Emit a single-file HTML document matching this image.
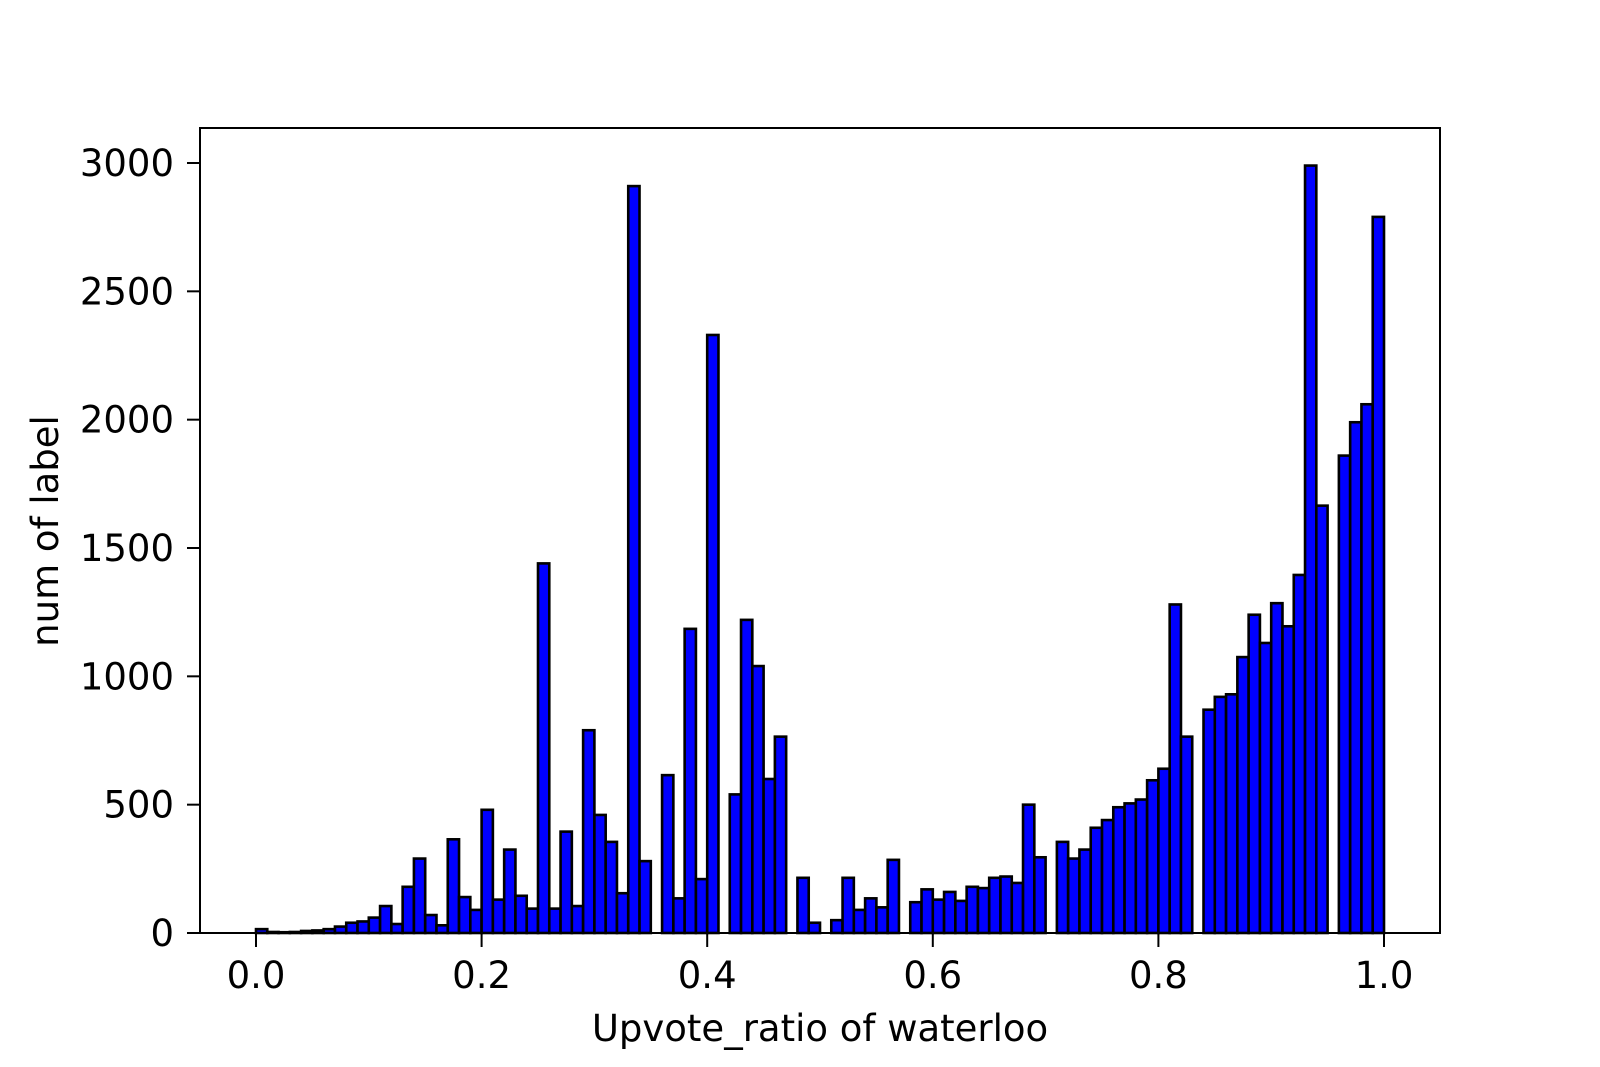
<!DOCTYPE html>
<html><head><meta charset="utf-8"><style>
html,body{margin:0;padding:0;background:#fff;overflow:hidden;width:1600px;height:1067px;}
svg{display:block;}
svg text{font-family:"DejaVu Sans","Liberation Sans",sans-serif;fill:#000;}
</style></head><body>
<svg id="chart" width="1600" height="1067" viewBox="0 0 1600 1067" xmlns="http://www.w3.org/2000/svg">
<rect width="1600" height="1067" fill="#fff"/>
<g id="bars"></g>
<g id="axes"></g>
</svg>
<script>
const counts = [15,4,3,4,8,10,15,25,40,45,60,105,35,180,290,70,30,365,140,90,480,130,325,145,95,1440,95,395,105,790,460,355,155,2910,280,0,615,135,1185,210,2330,0,540,1220,1040,600,765,0,215,40,0,50,215,90,135,100,285,0,120,170,130,160,125,180,175,215,220,195,500,295,0,355,290,325,410,440,490,505,520,595,640,1280,765,0,870,920,930,1075,1240,1130,1285,1195,1395,2990,1665,0,1860,1990,2060,2790];
const xTicks = [0.0,0.2,0.4,0.6,0.8,1.0];
const yTicks = [0,500,1000,1500,2000,2500,3000];

const NS="http://www.w3.org/2000/svg";
const X0=256, X1=1384, Y0=933, Y3000=163;
function xs(v){return X0+(X1-X0)*v;}
function ys(v){return Y0-(Y0-Y3000)*v/3000;}
function mk(tag,attrs,parent){const e=document.createElementNS(NS,tag);for(const k in attrs)e.setAttribute(k,attrs[k]);parent.appendChild(e);return e;}
const bars=document.getElementById('bars'), axes=document.getElementById('axes');
const n=counts.length;
counts.forEach((c,i)=>{
  if(c<=0) return;
  const x=xs(i/n), w=xs((i+1)/n)-x, y=ys(c);
  const r=mk('rect',{x:x,y:y,width:w,height:Y0-y,fill:'#0000ff',stroke:'#000','stroke-width':2.6},bars);
  
  
});
const frame=mk('rect',{x:200,y:128,width:1240,height:805,fill:'none',stroke:'#000','stroke-width':2},axes);


xTicks.forEach(t=>{
  const x=xs(t);
  mk('line',{x1:x,x2:x,y1:933,y2:947,stroke:'#000','stroke-width':2},axes);
  const tx=mk('text',{x:x,y:988,'font-size':37,'text-anchor':'middle'},axes);
  tx.textContent=t.toFixed(1);
  
  
});
yTicks.forEach(t=>{
  const y=ys(t);
  mk('line',{x1:187,x2:200,y1:y,y2:y,stroke:'#000','stroke-width':2},axes);
  const tx=mk('text',{x:174,y:y+13,'font-size':37,'text-anchor':'end'},axes);
  tx.textContent=String(t);
  
  
});
const xl=mk('text',{x:820,y:1041,'font-size':37,'text-anchor':'middle'},axes);
xl.textContent='Upvote_ratio of waterloo';


const yl=mk('text',{x:0,y:0,'font-size':37,'text-anchor':'middle',transform:'translate(58,531) rotate(-90)'},axes);
yl.textContent='num of label';


</script>
</body></html>
